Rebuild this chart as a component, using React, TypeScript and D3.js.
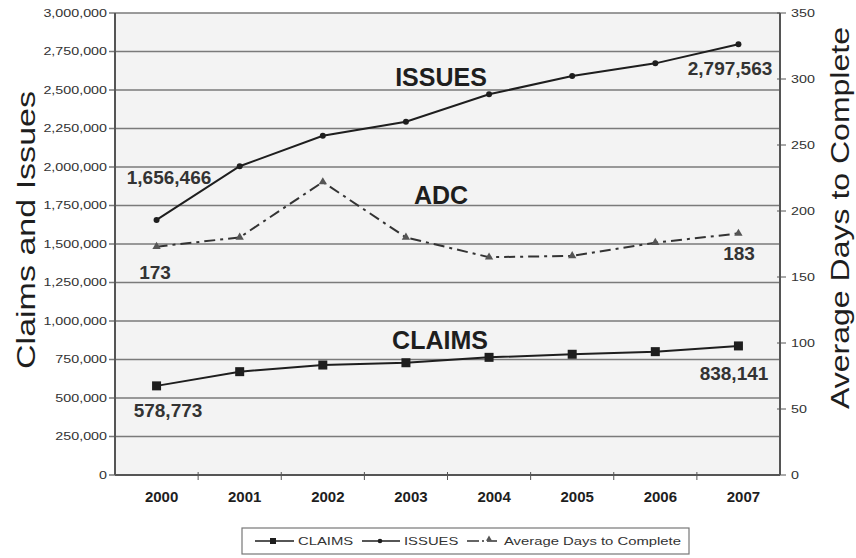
import React from "react";
import * as d3 from "d3";

const years = ["2000", "2001", "2002", "2003", "2004", "2005", "2006", "2007"];
const claims = [578773, 671000, 714000, 729000, 764000, 784000, 801000, 838141];
const issues = [1656466, 2005000, 2203000, 2294000, 2472000, 2591000, 2673000, 2797563];
const adc = [173, 180, 222, 180, 165, 166, 176, 183];
const leftTicks = [0, 250000, 500000, 750000, 1000000, 1250000, 1500000, 1750000, 2000000, 2250000, 2500000, 2750000, 3000000];
const rightTicks = [0, 50, 100, 150, 200, 250, 300, 350];

const W = 856, H = 558;
const L = 115, R = 780, T = 13, B = 475;
const FONT = "'Liberation Sans', Arial, sans-serif";
const INK = "#1e1e1e";

function ST(props: { x: number; y: number; sx?: number; rot?: number; anchor?: string; size: number; bold?: boolean; fill?: string; children: React.ReactNode }) {
  const { x, y, sx = 1, rot = 0, anchor = "middle", size, bold, fill = INK, children } = props;
  return (
    <text
      transform={`translate(${x},${y}) rotate(${rot}) scale(${sx},1)`}
      dy="0.35em"
      textAnchor={anchor}
      fontSize={size}
      fontWeight={bold ? "bold" : "normal"}
      fill={fill}
    >
      {children}
    </text>
  );
}

export default function App() {
  const x = d3.scaleBand<string>().domain(years).range([L, R]).padding(0);
  const cx = (y: string) => (x(y) as number) + x.bandwidth() / 2;
  const yL = d3.scaleLinear().domain([0, 3000000]).range([B, T]);
  const yR = d3.scaleLinear().domain([0, 350]).range([B, T]);
  const fmt = d3.format(",");

  const lineL = d3.line<number>().x((_, i) => cx(years[i])).y((d) => yL(d));
  const lineR = d3.line<number>().x((_, i) => cx(years[i])).y((d) => yR(d));
  const tri = d3.symbol().type(d3.symbolTriangle).size(30)() as string;
  const triSmall = d3.symbol().type(d3.symbolTriangle).size(16)() as string;

  return (
    <svg width={W} height={H} style={{ position: "absolute", left: 0, top: 0, background: "#fff" }} fontFamily={FONT}>
      <rect x={L} y={T} width={R - L} height={B - T} fill="#f3f3f3" />
      {leftTicks.map((t) => (
        <g key={t}>
          <line x1={L - 6} x2={R} y1={yL(t)} y2={yL(t)} stroke="#7a7a7a" strokeWidth={1.7} />
          <ST x={L - 8} y={yL(t)} sx={1.3} anchor="end" size={11} fill="#333">{fmt(t)}</ST>
        </g>
      ))}
      {rightTicks.map((t) => (
        <g key={t}>
          <line x1={R - 3} x2={R + 6} y1={yR(t)} y2={yR(t)} stroke="#555" strokeWidth={1} />
          <ST x={R + 11} y={yR(t)} sx={1.3} anchor="start" size={11} fill="#333">{t}</ST>
        </g>
      ))}
      <line x1={L} x2={L} y1={T} y2={B} stroke="#555" strokeWidth={2} />
      <line x1={R} x2={R} y1={T} y2={B} stroke="#555" strokeWidth={2} />
      <line x1={L} x2={R} y1={B} y2={B} stroke="#555" strokeWidth={2} />
      {years.map((y, i) => (
        <g key={y}>
          {i > 0 && <line x1={x(y) as number} x2={x(y) as number} y1={B - 3} y2={B + 5} stroke="#555" strokeWidth={1} />}
          <ST x={cx(y) + 5} y={497} size={15} bold fill={INK}>{y}</ST>
        </g>
      ))}

      {/* ISSUES */}
      <path d={lineL(issues) as string} fill="none" stroke={INK} strokeWidth={2} />
      {issues.map((v, i) => (
        <circle key={i} cx={cx(years[i])} cy={yL(v)} r={3} fill={INK} />
      ))}
      {/* CLAIMS */}
      <path d={lineL(claims) as string} fill="none" stroke={INK} strokeWidth={2} />
      {claims.map((v, i) => (
        <rect key={i} x={cx(years[i]) - 4.5} y={yL(v) - 4.5} width={9} height={9} fill={INK} />
      ))}
      {/* ADC */}
      <path d={lineR(adc) as string} fill="none" stroke="#333" strokeWidth={2} strokeDasharray="11,5,3,5" />
      {adc.map((v, i) => (
        <path key={i} d={tri} transform={`translate(${cx(years[i])},${yR(v)})`} fill="#555" />
      ))}

      {/* series labels */}
      <ST x={441} y={77} size={25} bold>ISSUES</ST>
      <ST x={441} y={195} size={25} bold>ADC</ST>
      <ST x={440} y={340} size={25} bold>CLAIMS</ST>

      {/* value labels */}
      <ST x={169} y={177} size={19} bold fill="#333">{fmt(issues[0])}</ST>
      <ST x={730} y={68} size={19} bold fill="#333">{fmt(issues[7])}</ST>
      <ST x={155} y={272} size={19} bold fill="#333">{adc[0]}</ST>
      <ST x={739} y={253} size={19} bold fill="#333">{adc[7]}</ST>
      <ST x={168} y={410} size={19} bold fill="#333">{fmt(claims[0])}</ST>
      <ST x={734} y={373} size={19} bold fill="#333">{fmt(claims[7])}</ST>

      {/* axis titles */}
      <text transform={`translate(26,230) rotate(-90)`} dy="0.35em" textAnchor="middle" fontSize={26} fill={INK}
        textLength={278} lengthAdjust="spacingAndGlyphs">Claims and Issues</text>
      <text transform={`translate(840,218) rotate(-90)`} dy="0.35em" textAnchor="middle" fontSize={26} fill={INK}
        textLength={382} lengthAdjust="spacingAndGlyphs">Average Days to Complete</text>

      {/* legend */}
      <rect x={242} y={528} width={447} height={26} fill="#fff" stroke="#777" strokeWidth={1.2} />
      <line x1={255} x2={294} y1={541} y2={541} stroke={INK} strokeWidth={1.6} />
      <rect x={270} y={538} width={6} height={6} fill={INK} />
      <ST x={298} y={541} sx={1.35} anchor="start" size={11} fill="#333">CLAIMS</ST>
      <line x1={362} x2={400} y1={541} y2={541} stroke={INK} strokeWidth={1.6} />
      <circle cx={380} cy={541} r={2.3} fill={INK} />
      <ST x={404} y={541} sx={1.35} anchor="start" size={11} fill="#333">ISSUES</ST>
      <line x1={467} x2={497} y1={541} y2={541} stroke="#333" strokeWidth={1.6} strokeDasharray="12,3,2,3" />
      <path d={triSmall} transform="translate(489,539)" fill="#555" />
      <ST x={504} y={541} sx={1.35} anchor="start" size={11} fill="#333">Average Days to Complete</ST>
    </svg>
  );
}
